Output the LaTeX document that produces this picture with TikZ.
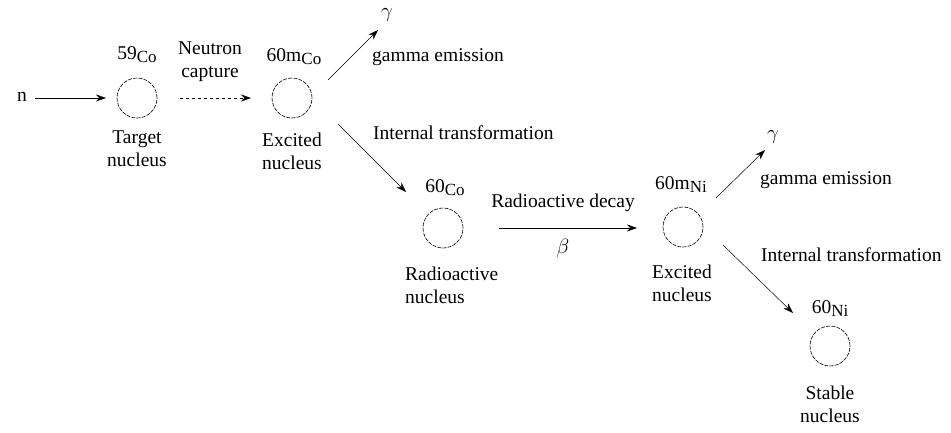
\documentclass[tikz,border=0pt]{standalone}
\usepackage{fontspec}
\setmainfont{Liberation Serif}
\usetikzlibrary{arrows.meta}
\begin{document}
\begin{tikzpicture}[x=1pt,y=-1pt,
  nuc/.style={circle,draw,line width=0.6pt,dash pattern=on 4pt off 1.2pt,minimum size=40pt,inner sep=0pt},
  txt/.style={font=\rmfamily\fontsize{19.5}{23}\selectfont,inner sep=0pt},
  lbl/.style={txt,align=center},
  llbl/.style={txt,align=left},
  arr/.style={-{Stealth[length=10pt,width=7pt]},line width=0.5pt},
  iso/.style={txt}]
\useasboundingbox (0,0) rectangle (951,432);
\newcommand{\isot}[2]{#1\raisebox{-3pt}{\fontsize{17}{20}\selectfont #2}}
% nuclei
\node[nuc] (c1) at (137,98) {};
\node[nuc] (c2) at (292,98) {};
\node[nuc] (c3) at (443,228) {};
\node[nuc] (c4) at (683,227) {};
\node[nuc] (c5) at (830,346) {};
% isotope labels
\node[iso] (i1) at (137,55) {\isot{59}{Co}};
\node[iso] (i2) at (294,57) {\isot{60m}{Co}};
\node[iso] (i3) at (445,188) {\isot{60}{Co}};
\node[iso] (i4) at (681,185) {\isot{60m}{Ni}};
\node[iso] (i5) at (830,309) {\isot{60}{Ni}};
% descriptions
\node[lbl] (d1) at (137,149) {Target\\nucleus};
\node[lbl] (d2) at (292,151) {Excited\\nucleus};
\node[llbl,anchor=west] (d3) at (405,285) {Radioactive\\nucleus};
\node[llbl,anchor=west] (d4) at (652,283) {Excited\\nucleus};
\node[lbl] (d5) at (830,404) {Stable\\nucleus};
% neutron
\node[txt] (n) at (22,97) {n};
\node[lbl] (nc) at (210,62) {Neutron\\capture};
\coordinate (ns) at (35,98);
\coordinate (ne) at (106,98);
\draw[arr] (ns) -- (ne);
\coordinate (ds) at (180,98);
\coordinate (de) at (251,98);
\draw[arr,dashed] (ds) -- (de);
% gamma 1
\node[txt] (g1) at (387,15) {$\gamma$};
\node[txt,anchor=west] (ge1) at (372,57) {gamma emission};
\coordinate (g1s) at (328,80);
\coordinate (g1e) at (378,30);
\draw[arr] (g1s) -- (g1e);
% internal transformation 1
\node[txt,anchor=west] (it1) at (373,133) {Internal transformation};
\coordinate (t1s) at (338,124);
\coordinate (t1e) at (406,192);
\draw[arr] (t1s) -- (t1e);
% radioactive decay
\node[txt] (rd) at (563,203) {Radioactive decay};
\node[txt] (beta) at (563,248) {$\beta$};
\coordinate (rs) at (499,228);
\coordinate (re) at (637,228);
\draw[arr] (rs) -- (re);
% gamma 2
\node[txt] (g2) at (773,137) {$\gamma$};
\node[txt,anchor=west] (ge2) at (760,180) {gamma emission};
\coordinate (g2s) at (716,198);
\coordinate (g2e) at (765,150);
\draw[arr] (g2s) -- (g2e);
% internal transformation 2
\node[txt,anchor=west] (it2) at (761,255) {Internal transformation};
\coordinate (t2s) at (723,245);
\coordinate (t2e) at (793,313);
\draw[arr] (t2s) -- (t2e);
\end{tikzpicture}
\end{document}
